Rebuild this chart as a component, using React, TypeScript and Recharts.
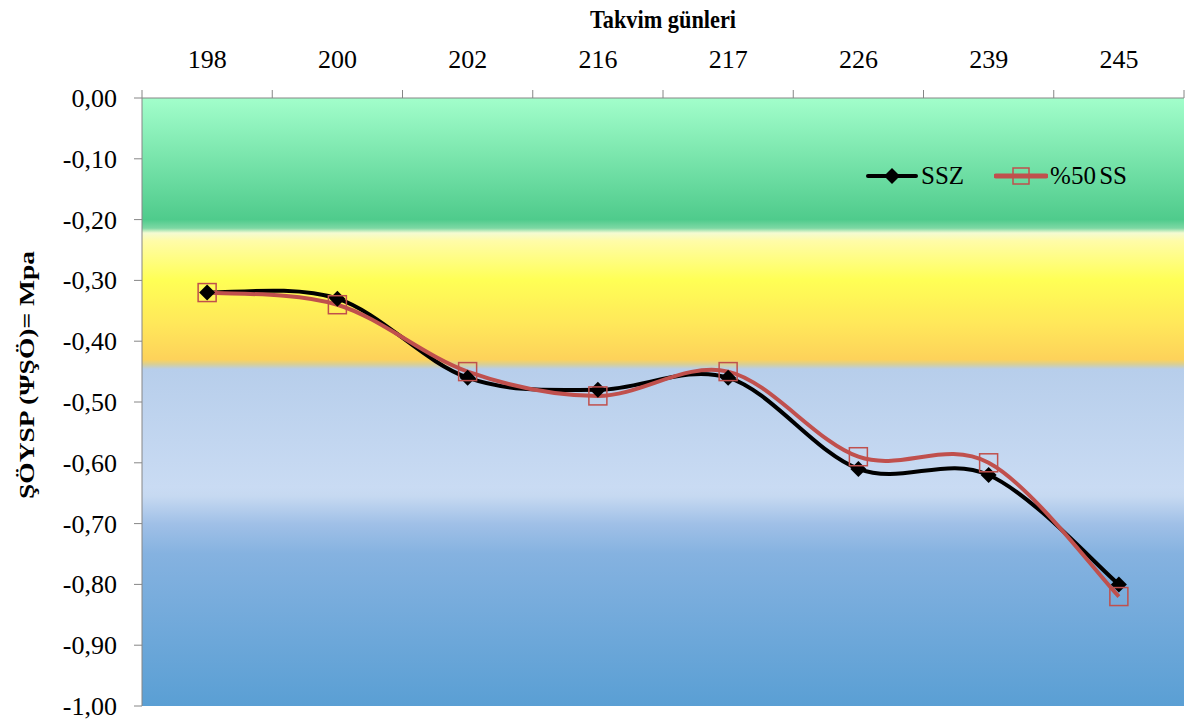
import { LineChart, Line, XAxis, YAxis, CartesianGrid, Legend, Label } from "recharts"

const days = ["198", "200", "202", "216", "217", "226", "239", "245"]
const sszValues = [-0.32, -0.33, -0.46, -0.48, -0.46, -0.61, -0.62, -0.8]
const ss50Values = [-0.32, -0.34, -0.45, -0.49, -0.45, -0.59, -0.6, -0.82]
const yTicks = [0, -0.1, -0.2, -0.3, -0.4, -0.5, -0.6, -0.7, -0.8, -0.9, -1]

// background zones (value, colour), top to bottom
const zoneStops: [number, string][] = [
  [0, "#a2fecb"],
  [-0.2, "#4fcb8c"],
  [-0.214, "#7dd8a4"],
  [-0.222, "#f4fbd2"],
  [-0.235, "#fffca8"],
  [-0.3, "#ffff55"],
  [-0.37, "#ffe85a"],
  [-0.43, "#fdd25a"],
  [-0.438, "#d9cf95"],
  [-0.446, "#b7ceeb"],
  [-0.64, "#c9dbf3"],
  [-0.655, "#c6d9f1"],
  [-0.7, "#a0c0e7"],
  [-0.75, "#85b2e0"],
  [-1, "#5a9fd4"],
]

const data = days.map((day, i) => ({ day, ssz: sszValues[i], ss50: ss50Values[i] }))

const FONT = '"Liberation Serif", "Times New Roman", serif'
const AXIS = "#868686"
const RED = "#c0504d"
const W = 1185
const H = 720
const PLOT_LEFT = 142
const PLOT_RIGHT = 1184
const bandW = (PLOT_RIGHT - PLOT_LEFT) / days.length

// Excel-like smoothed line (catmull-rom style bezier)
function excelSmooth(ctx: any) {
  let pts: number[][] = []
  return {
    areaStart() {},
    areaEnd() {},
    lineStart() {
      pts = []
    },
    point(x: number, y: number) {
      pts.push([+x, +y])
    },
    lineEnd() {
      if (!pts.length) return
      ctx.moveTo(pts[0][0], pts[0][1])
      for (let i = 0; i < pts.length - 1; i++) {
        const p0 = pts[i - 1] || pts[i]
        const p1 = pts[i]
        const p2 = pts[i + 1]
        const p3 = pts[i + 2] || p2
        ctx.bezierCurveTo(
          p1[0] + (p2[0] - p0[0]) / 6,
          p1[1] + (p2[1] - p0[1]) / 6,
          p2[0] - (p3[0] - p1[0]) / 6,
          p2[1] - (p3[1] - p1[1]) / 6,
          p2[0],
          p2[1]
        )
      }
    },
  }
}

const fmt = (v: number) => (Math.abs(v) < 1e-9 ? "0,00" : v.toFixed(2).replace(".", ","))

function DayTick(props: any) {
  const { x, y, payload, index } = props
  const half = bandW / 2
  return (
    <g>
      <line x1={x - half} x2={x - half} y1={y} y2={y - 8} stroke={AXIS} />
      {index === days.length - 1 && <line x1={x + half} x2={x + half} y1={y} y2={y - 8} stroke={AXIS} />}
      <text x={x} y={y - 30} textAnchor="middle" fontSize={26} fontFamily={FONT} fill="#000">
        {payload.value}
      </text>
    </g>
  )
}

function ValueTick(props: any) {
  const { x, y, payload } = props
  return (
    <text x={x} y={y + 9} textAnchor="end" fontSize={26} fontFamily={FONT} fill="#000">
      {fmt(payload.value)}
    </text>
  )
}

function Diamond(props: any) {
  const { cx, cy } = props
  if (cx == null || cy == null) return null
  const r = 8
  return <polygon points={`${cx},${cy - r} ${cx + r},${cy} ${cx},${cy + r} ${cx - r},${cy}`} fill="#000" />
}

function HollowSquare(props: any) {
  const { cx, cy } = props
  if (cx == null || cy == null) return null
  const s = 18
  return <rect x={cx - s / 2} y={cy - s / 2} width={s} height={s} fill="none" stroke={RED} strokeWidth={1.5} />
}

function LegendContent() {
  return (
    <div style={{ display: "flex", alignItems: "center", fontFamily: FONT, fontSize: 25, color: "#000", lineHeight: "26px" }}>
      <svg width={52} height={22}>
        <line x1={2} x2={50} y1={11} y2={11} stroke="#000" strokeWidth={4} strokeLinecap="round" />
        <polygon points="26,3 34,11 26,19 18,11" fill="#000" />
      </svg>
      <span style={{ marginLeft: 3, marginRight: 30 }}>SSZ</span>
      <svg width={54} height={22}>
        <line x1={2} x2={52} y1={11} y2={11} stroke={RED} strokeWidth={5} strokeLinecap="round" />
        <rect x={19} y={3} width={16} height={16} fill="none" stroke={RED} strokeWidth={1.5} />
      </svg>
      <span style={{ marginLeft: 2, wordSpacing: -3 }}>%50 SS</span>
    </div>
  )
}

export default function App() {
  return (
    <div style={{ position: "absolute", left: 0, top: 0, width: W, height: H, background: "#fff" }}>
      <LineChart width={W} height={H} data={data} margin={{ top: 48, right: W - PLOT_RIGHT, bottom: 14, left: 10 }}>
        <defs>
          <linearGradient id="zones" x1="0" y1="0" x2="0" y2="1">
            {zoneStops.map(([v, c]) => (
              <stop key={v} offset={`${-v * 100}%`} stopColor={c} />
            ))}
          </linearGradient>
        </defs>
        <CartesianGrid horizontal={false} vertical={false} fill="url(#zones)" />
        <XAxis
          dataKey="day"
          orientation="top"
          scale="band"
          height={50}
          interval={0}
          axisLine={{ stroke: AXIS }}
          tickLine={false}
          tickSize={0}
          tickMargin={0}
          tick={<DayTick />}
        >
          <Label
            content={(p: any) => {
              const vb = p.viewBox || { x: PLOT_LEFT, y: 48, width: PLOT_RIGHT - PLOT_LEFT }
              return (
                <text
                  x={vb.x + vb.width / 2}
                  y={vb.y - 20}
                  textAnchor="middle"
                  fontSize={25}
                  fontWeight="bold"
                  fontFamily={FONT}
                  fill="#000"
                  textLength={146}
                  lengthAdjust="spacingAndGlyphs"
                >
                  Takvim günleri
                </text>
              )
            }}
          />
        </XAxis>
        <YAxis
          type="number"
          domain={[-1, 0]}
          ticks={yTicks}
          width={PLOT_LEFT - 10}
          axisLine={{ stroke: AXIS }}
          tickLine={{ stroke: AXIS }}
          tickSize={8}
          tickMargin={17}
          tick={<ValueTick />}
        >
          <Label
            content={(p: any) => {
              const vb = p.viewBox || { x: 10, y: 98, height: 608 }
              const cx = vb.x + 16
              const cy = vb.y + vb.height / 2 - 27
              return (
                <text
                  x={cx}
                  y={cy}
                  transform={`rotate(-90, ${cx}, ${cy})`}
                  textAnchor="middle"
                  dominantBaseline="central"
                  fontSize={22}
                  fontWeight="bold"
                  fontFamily={FONT}
                  fill="#000"
                  textLength={248}
                  lengthAdjust="spacingAndGlyphs"
                >
                  ŞÖYSP (ΨŞÖ)= Mpa
                </text>
              )
            }}
          />
        </YAxis>
        <Legend
          layout="horizontal"
          align="center"
          verticalAlign="middle"
          content={<LegendContent />}
          wrapperStyle={{ position: "absolute", left: 866, top: 163, width: 320 }}
        />
        <Line
          dataKey="ssz"
          name="SSZ"
          type={excelSmooth as any}
          stroke="#000"
          strokeWidth={4}
          dot={<Diamond />}
          activeDot={false}
          isAnimationActive={false}
        />
        <Line
          dataKey="ss50"
          name="%50 SS"
          type={excelSmooth as any}
          stroke={RED}
          strokeWidth={4}
          dot={<HollowSquare />}
          activeDot={false}
          isAnimationActive={false}
        />
      </LineChart>
    </div>
  )
}
